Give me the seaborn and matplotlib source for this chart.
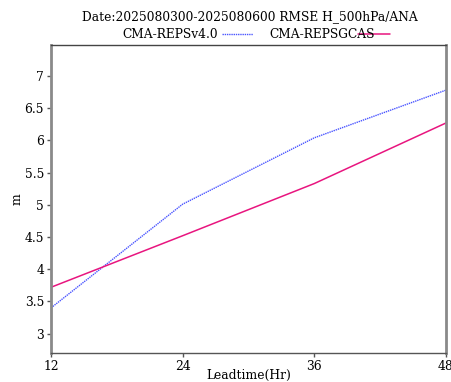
import matplotlib
matplotlib.use("Agg")
import matplotlib.pyplot as plt
import seaborn as sns
import pandas as pd
from matplotlib.lines import Line2D

leadtime = [12, 24, 36, 48]
series_names = ["CMA-REPSv4.0", "CMA-REPSGCAS"]
rmse_v40 = [3.40, 5.01, 6.04, 6.78]
rmse_gcas = [3.72, 4.52, 5.33, 6.27]
yticks = [3, 3.5, 4, 4.5, 5, 5.5, 6, 6.5, 7]
ytick_labels = ["3", "3.5", "4", "4.5", "5", "5.5", "6", "6.5", "7"]
xticks = [12, 24, 36, 48]
title = "Date:2025080300-2025080600 RMSE H_500hPa/ANA"

df = pd.DataFrame({
    "Leadtime": leadtime * 2,
    "RMSE": rmse_v40 + rmse_gcas,
    "Model": [series_names[0]] * 4 + [series_names[1]] * 4,
})

sns.set_theme(style="white")
plt.rcParams["font.family"] = ["DejaVu Serif"]
plt.rcParams["text.color"] = "black"
plt.rcParams["axes.labelcolor"] = "black"
plt.rcParams["xtick.color"] = "black"
plt.rcParams["ytick.color"] = "black"

colors = {series_names[0]: "#4a55ff", series_names[1]: "#e8157f"}
FS = 8.8

fig = plt.figure(figsize=(4.51, 3.82), dpi=100)
ax = fig.add_axes([51/451, 29/382, (446-51)/451, (353-45)/382])

sns.lineplot(data=df, x="Leadtime", y="RMSE", hue="Model", palette=colors,
             ax=ax, legend=False, estimator=None)
lines = ax.get_lines()
lines[0].set_linestyle((0, (1, 0.6)))
lines[0].set_linewidth(1.0)
lines[1].set_linewidth(1.1)

ax.set_xlim(12, 48)
ax.set_ylim(2.7, 7.48)
ax.set_xticks(xticks)
ax.set_xticklabels([str(t) for t in xticks], fontsize=FS, color="black")
ax.set_yticks(yticks)
ax.set_yticklabels(ytick_labels, fontsize=FS, color="black")
ax.tick_params(axis="both", which="both", direction="out", length=3, width=1,
               color="#555555", left=True, bottom=True, pad=2)
ax.set_xlabel("Leadtime(Hr)", fontsize=FS, labelpad=-3, color="black")
ax.set_ylabel("m", fontsize=FS, labelpad=1, color="black")

for side in ["left", "right"]:
    ax.spines[side].set_color("#8a8a8a")
    ax.spines[side].set_linewidth(2)
ax.spines["top"].set_color("#444444")
ax.spines["top"].set_linewidth(1)
ax.spines["bottom"].set_color("#555555")
ax.spines["bottom"].set_linewidth(1)

fig.text(250/451, 1 - 17/382, title, ha="center", va="center", fontsize=FS, color="black")
fig.text(170/451, 1 - 34/382, series_names[0], ha="center", va="center", fontsize=FS, color="black")
fig.text(322/451, 1 - 34/382, series_names[1], ha="center", va="center", fontsize=FS, color="black")
fig.add_artist(Line2D([222/451, 253/451], [1 - 34/382, 1 - 34/382], color=colors[series_names[0]],
                      linestyle=(0, (1, 0.6)), linewidth=1.0, transform=fig.transFigure))
fig.add_artist(Line2D([358/451, 390/451], [1 - 34/382, 1 - 34/382], color=colors[series_names[1]],
                      linewidth=1.1, transform=fig.transFigure))

fig.savefig("out.png", dpi=100)
